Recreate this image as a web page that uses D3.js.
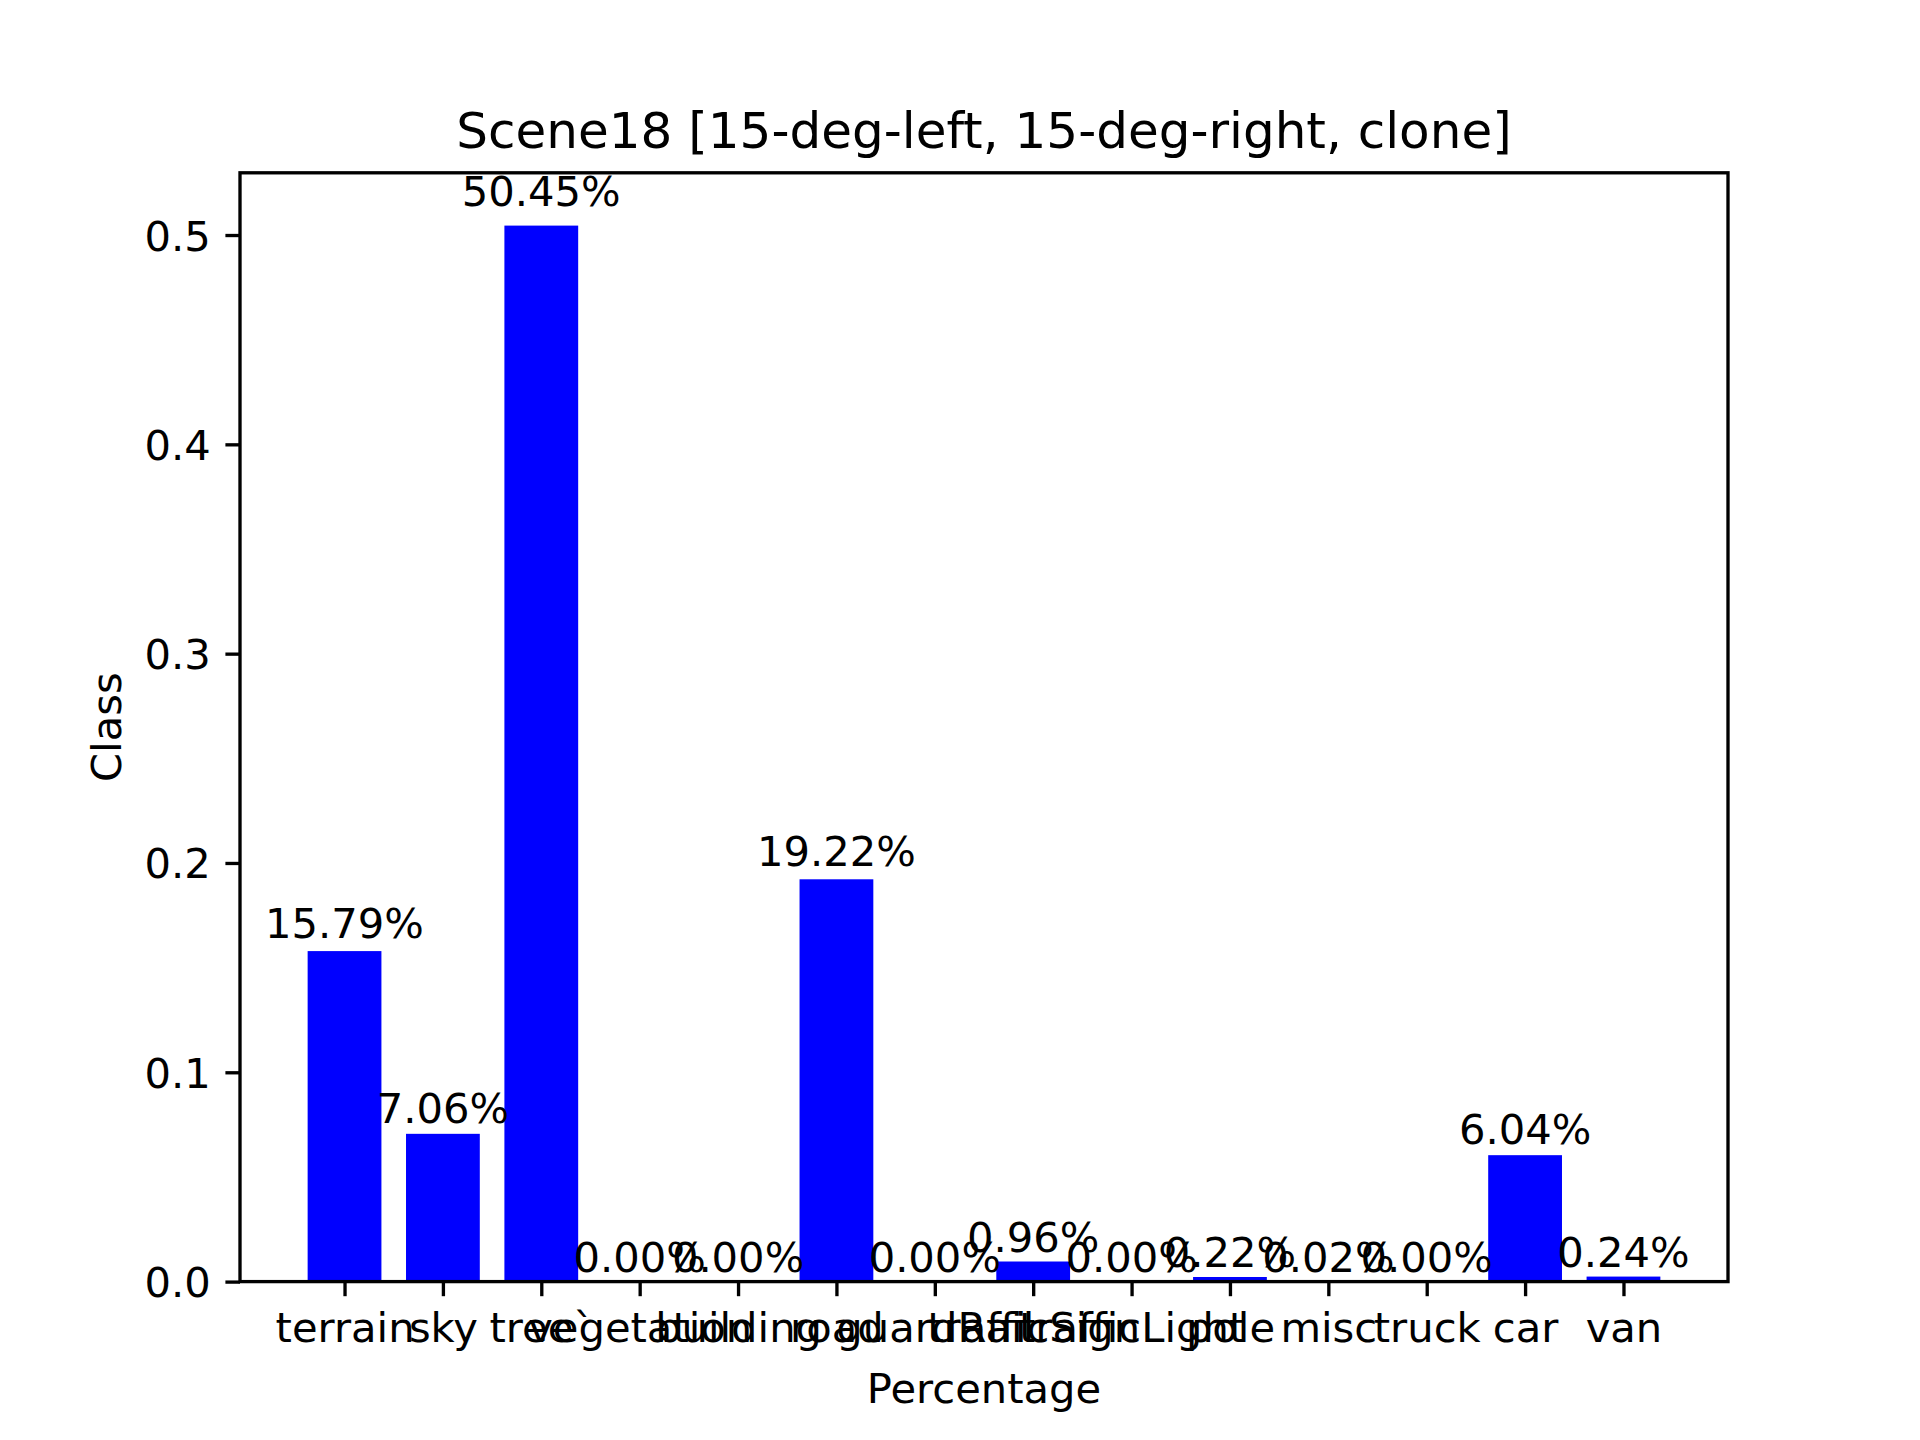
<!DOCTYPE html>
<html>
<head>
<meta charset="utf-8">
<script src="https://cdn.jsdelivr.net/npm/d3@7"></script>
<style>
  body { margin: 0; background: #fff; }
  text { font-family: "DejaVu Sans", sans-serif; fill: #000; }
</style>
</head>
<body>
<svg id="chart" width="1920" height="1440"></svg>
<script>
// class names along the x axis (as printed in the figure)
var classes   = ['terrain', 'sky', 'tree`', 'vegetation', 'building', 'road', 'guardRail',
                 'trafficSign', 'trafficLight', 'pole', 'misc', 'truck', 'car', 'van']
// share of pixels per class
var fractions = [0.1579, 0.0706, 0.5045, 0.0000, 0.0000, 0.1922, 0.0000,
                 0.0096, 0.0000, 0.0022, 0.0002, 0.0000, 0.0604, 0.0024]
var yticks    = [0.0, 0.1, 0.2, 0.3, 0.4, 0.5]
var title     = 'Scene18 [15-deg-left, 15-deg-right, clone]'

// figure geometry (6.4x4.8 in at 300 dpi)
// note: "top" is window.top, so use other names
var plotL = 240, plotR = 1728, plotT = 172.8, plotB = 1281.6
var fs = 41.67          // 10pt
var lw = 3.33           // 0.8pt
var tick = 14.6, pad = 14.6
var barw = 0.75

var svg = d3.select('#chart')

// x limits like matplotlib: bar extents plus 5% margins
var lo = -barw/2, hi = classes.length - 1 + barw/2
var m  = (hi - lo) * 0.05
var x  = d3.scaleLinear().domain([lo - m, hi + m]).range([plotL, plotR])
var ymax = d3.max(fractions) * 1.05
var y  = d3.scaleLinear().domain([0, ymax]).range([plotB, plotT])

// bars
svg.append('g').selectAll('rect')
  .data(fractions)
  .enter().append('rect')
  .attr('x', function(d, i){ return x(i - barw/2) })
  .attr('width', function(){ return x(barw) - x(0) })
  .attr('y', function(d){ return y(d) })
  .attr('height', function(d){ return plotB - y(d) })
  .attr('fill', '#0000ff')

// x axis
var xa = d3.axisBottom(x)
  .tickValues(d3.range(classes.length))
  .tickFormat(function(i){ return classes[i] })
  .tickSize(tick).tickPadding(pad)
var gx = svg.append('g').attr('transform', 'translate(0,' + plotB + ')').call(xa)
gx.select('.domain').remove()
gx.selectAll('line').attr('stroke', '#000').attr('stroke-width', lw)
gx.selectAll('text').attr('font-size', fs).attr('dy', '0.76em')

// y axis
var ya = d3.axisLeft(y)
  .tickValues(yticks)
  .tickFormat(d3.format('.1f'))
  .tickSize(tick).tickPadding(pad)
var gy = svg.append('g').attr('transform', 'translate(' + plotL + ',0)').call(ya)
gy.select('.domain').remove()
gy.selectAll('line').attr('stroke', '#000').attr('stroke-width', lw)
gy.selectAll('text').attr('font-size', fs).attr('dy', '0.36em')

// frame
svg.append('rect')
  .attr('x', plotL).attr('y', plotT)
  .attr('width', plotR - plotL).attr('height', plotB - plotT)
  .attr('fill', 'none').attr('stroke', '#000').attr('stroke-width', lw)

// percentage labels, placed at 1.01*value like the source plot
svg.append('g').selectAll('text')
  .data(fractions)
  .enter().append('text')
  .attr('x', function(d, i){ return x(i) })
  .attr('y', function(d){ return y(d * 1.01) - 9.5 })
  .attr('text-anchor', 'middle')
  .attr('font-size', fs)
  .text(function(d){ return (d * 100).toFixed(2) + '%' })

// title and axis labels
svg.append('text')
  .attr('x', (plotL + plotR) / 2).attr('y', 147.8)
  .attr('text-anchor', 'middle').attr('font-size', 50)
  .text(title)

svg.append('text')
  .attr('x', (plotL + plotR) / 2).attr('y', 1403)
  .attr('text-anchor', 'middle').attr('font-size', fs)
  .text('Percentage')

svg.append('text')
  .attr('transform', 'translate(121,' + (plotT + plotB) / 2 + ') rotate(-90)')
  .attr('text-anchor', 'middle').attr('font-size', fs)
  .text('Class')
</script>
</body>
</html>
